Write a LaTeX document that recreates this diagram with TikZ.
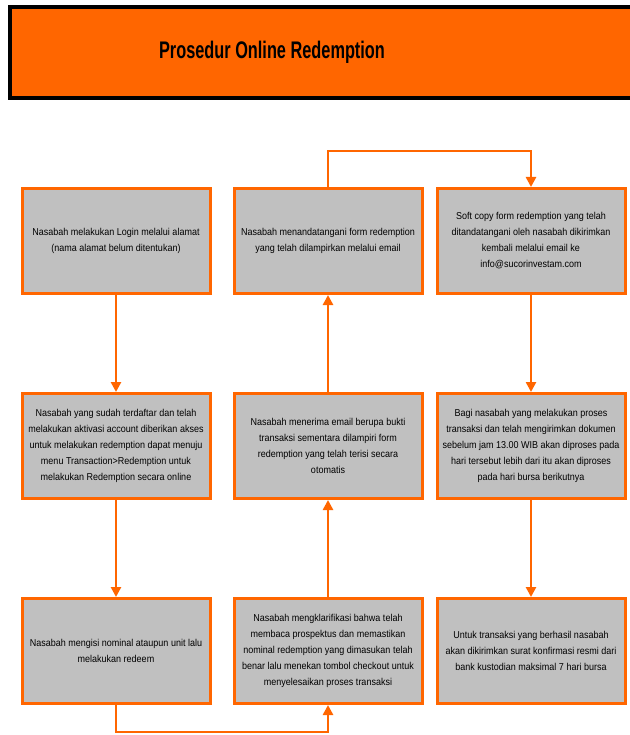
\documentclass[tikz,border=0pt]{standalone}
\usepackage{fontspec}
\setmainfont{Liberation Sans}
\newfontfamily\boxfont[FakeStretch=0.9]{Liberation Sans}
\newfontfamily\titlefont[FakeStretch=0.68]{Liberation Sans}
\usetikzlibrary{arrows.meta}
\definecolor{flowor}{HTML}{FF6600}
\definecolor{boxgray}{HTML}{C0C0C0}
\begin{document}
\begin{tikzpicture}[x=1pt,y=-1pt,
  procbox/.style={draw=flowor,fill=boxgray,line width=3pt,minimum width=188pt,minimum height=105pt,
    align=center,inner sep=2pt,font=\boxfont\fontsize{10}{16}\selectfont},
  flow/.style={draw=flowor,line width=2.5pt,-{Triangle[length=10pt,width=10pt]}}]

\useasboundingbox (0,0) rectangle (629,735);

\draw [line width=4pt,fill=flowor] (10,7) rectangle (645,98);
\node (title) at (272,52) {\titlefont\bfseries\fontsize{24}{28}\selectfont Prosedur Online Redemption};

% kolom kiri
\node[procbox] (login) at (116,241) {Nasabah melakukan Login melalui alamat\\(nama alamat belum ditentukan)};
\node[procbox] (menu) at (116,446) {Nasabah yang sudah terdaftar dan telah\\melakukan aktivasi account diberikan akses\\untuk melakukan redemption dapat menuju\\menu Transaction>Redemption untuk\\melakukan Redemption secara online};
\node[procbox] (isi) at (116,651) {Nasabah mengisi nominal ataupun unit lalu\\melakukan redeem};

% kolom tengah
\node[procbox] (klarif) at (328,651) {Nasabah mengklarifikasi bahwa telah\\membaca prospektus dan memastikan\\nominal redemption yang dimasukan telah\\benar lalu menekan tombol checkout untuk\\menyelesaikan proses transaksi};
\node[procbox] (bukti) at (328,446) {Nasabah menerima email berupa bukti\\transaksi sementara dilampiri form\\redemption yang telah terisi secara\\otomatis};
\node[procbox] (ttd) at (328,241) {Nasabah menandatangani form redemption\\yang telah dilampirkan melalui email};

% kolom kanan
\node[procbox] (kirim) at (531,241) {Soft copy form redemption yang telah\\ditandatangani oleh nasabah dikirimkan\\kembali melalui email ke\\info@sucorinvestam.com};
\node[procbox] (proses) at (531,446) {Bagi nasabah yang melakukan proses\\transaksi dan telah mengirimkan dokumen\\sebelum jam 13.00 WIB akan diproses pada\\hari tersebut lebih dari itu akan diproses\\pada hari bursa berikutnya};
\node[procbox] (konfirm) at (531,651) {Untuk transaksi yang berhasil nasabah\\akan dikirimkan surat konfirmasi resmi dari\\bank kustodian maksimal 7 hari bursa};

\draw [flow] (login) -- (menu);
\draw [flow] (menu) -- (isi);
\draw [flow] (isi.south) -- ++(0,27) -| (klarif.south);
\draw [flow] (klarif) -- (bukti);
\draw [flow] (bukti) -- (ttd);
\draw [flow] (ttd.north) -- ++(0,-36) -| (kirim.north);
\draw [flow] (kirim) -- (proses);
\draw [flow] (proses) -- (konfirm);

\end{tikzpicture}
\end{document}
